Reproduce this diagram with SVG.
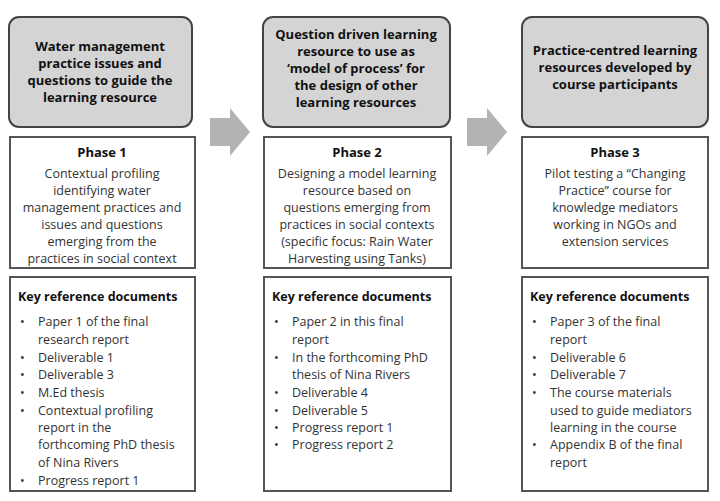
<svg xmlns="http://www.w3.org/2000/svg" width="720" height="501" viewBox="0 0 720 501">
<style>
text{font-family:"Open Sans","Liberation Sans",sans-serif;font-size:12.5px;fill:#333}
.h{font-weight:bold;text-anchor:middle;fill:#111;font-size:13px}
.c{text-anchor:middle}
.b{font-weight:bold;fill:#111}
.hd{fill:#d4d4d4;stroke:#444;stroke-width:2}
.bx{fill:#fff;stroke:#555;stroke-width:2}
.ar{fill:#b3b3b3}
</style>
<rect width="720" height="501" fill="#fff"/>
<g id="connectors">
<polygon class="ar" points="210,118 230,118 230,108 250,132 230,156 230,146 210,146"/>
<polygon class="ar" points="467,118 487,118 487,108 507,132 487,156 487,146 467,146"/>
</g>
<g id="col1-header">
<rect class="hd" x="9" y="17" width="183" height="110" rx="10"/>
<text class="h" x="100" y="51">Water management</text>
<text class="h" x="100" y="68">practice issues and</text>
<text class="h" x="100" y="85">questions to guide the</text>
<text class="h" x="100" y="102">learning resource</text>
</g>
<g id="col1-phase">
<rect class="bx" x="10" y="137" width="185" height="131"/>
<text class="h" x="102" y="157">Phase 1</text>
<text class="c" x="102" y="178">Contextual profiling</text>
<text class="c" x="102" y="195">identifying water</text>
<text class="c" x="102" y="212">management practices and</text>
<text class="c" x="102" y="229">issues and questions</text>
<text class="c" x="102" y="246">emerging from the</text>
<text class="c" x="102" y="263">practices in social context</text>
</g>
<g id="col1-docs">
<rect class="bx" x="10" y="277" width="185" height="214"/>
<text class="b" x="18" y="301">Key reference documents</text>
<text x="20" y="326">•</text><text x="38" y="326">Paper 1 of the final</text>
<text x="38" y="344">research report</text>
<text x="20" y="362">•</text><text x="38" y="362">Deliverable 1</text>
<text x="20" y="379">•</text><text x="38" y="379">Deliverable 3</text>
<text x="20" y="397">•</text><text x="38" y="397">M.Ed thesis</text>
<text x="20" y="415">•</text><text x="38" y="415">Contextual profiling</text>
<text x="38" y="432">report in the</text>
<text x="38" y="449">forthcoming PhD thesis</text>
<text x="38" y="467">of Nina Rivers</text>
<text x="20" y="485">•</text><text x="38" y="485">Progress report 1</text>
</g>
<g id="col2-header">
<rect class="hd" x="263" y="17" width="187" height="110" rx="10"/>
<text class="h" x="356" y="39">Question driven learning</text>
<text class="h" x="356" y="56">resource to use as</text>
<text class="h" x="356" y="73">‘model of process’ for</text>
<text class="h" x="356" y="90">the design of other</text>
<text class="h" x="356" y="107">learning resources</text>
</g>
<g id="col2-phase">
<rect class="bx" x="264" y="137" width="187" height="131"/>
<text class="h" x="357" y="157">Phase 2</text>
<text class="c" x="357" y="178">Designing a model learning</text>
<text class="c" x="357" y="195">resource based on</text>
<text class="c" x="357" y="212">questions emerging from</text>
<text class="c" x="357" y="229">practices in social contexts</text>
<text class="c" x="357" y="246">(specific focus: Rain Water</text>
<text class="c" x="357" y="263">Harvesting using Tanks)</text>
</g>
<g id="col2-docs">
<rect class="bx" x="264" y="277" width="187" height="214"/>
<text class="b" x="272" y="301">Key reference documents</text>
<text x="274" y="326">•</text><text x="292" y="326">Paper 2 in this final</text>
<text x="292" y="344">report</text>
<text x="274" y="362">•</text><text x="292" y="362">In the forthcoming PhD</text>
<text x="292" y="379">thesis of Nina Rivers</text>
<text x="274" y="397">•</text><text x="292" y="397">Deliverable 4</text>
<text x="274" y="415">•</text><text x="292" y="415">Deliverable 5</text>
<text x="274" y="432">•</text><text x="292" y="432">Progress report 1</text>
<text x="274" y="449">•</text><text x="292" y="449">Progress report 2</text>
</g>
<g id="col3-header">
<rect class="hd" x="522" y="17" width="186" height="110" rx="10"/>
<text class="h" x="615" y="55">Practice-centred learning</text>
<text class="h" x="615" y="72">resources developed by</text>
<text class="h" x="615" y="89">course participants</text>
</g>
<g id="col3-phase">
<rect class="bx" x="522" y="137" width="186" height="131"/>
<text class="h" x="615" y="157">Phase 3</text>
<text class="c" x="615" y="178">Pilot testing a “Changing</text>
<text class="c" x="615" y="195">Practice” course for</text>
<text class="c" x="615" y="212">knowledge mediators</text>
<text class="c" x="615" y="229">working in NGOs and</text>
<text class="c" x="615" y="246">extension services</text>
</g>
<g id="col3-docs">
<rect class="bx" x="522" y="277" width="186" height="214"/>
<text class="b" x="530" y="301">Key reference documents</text>
<text x="532" y="326">•</text><text x="550" y="326">Paper 3 of the final</text>
<text x="550" y="344">report</text>
<text x="532" y="362">•</text><text x="550" y="362">Deliverable 6</text>
<text x="532" y="379">•</text><text x="550" y="379">Deliverable 7</text>
<text x="532" y="397">•</text><text x="550" y="397">The course materials</text>
<text x="550" y="415">used to guide mediators</text>
<text x="550" y="432">learning in the course</text>
<text x="532" y="449">•</text><text x="550" y="449">Appendix B of the final</text>
<text x="550" y="467">report</text>
</g>
</svg>
